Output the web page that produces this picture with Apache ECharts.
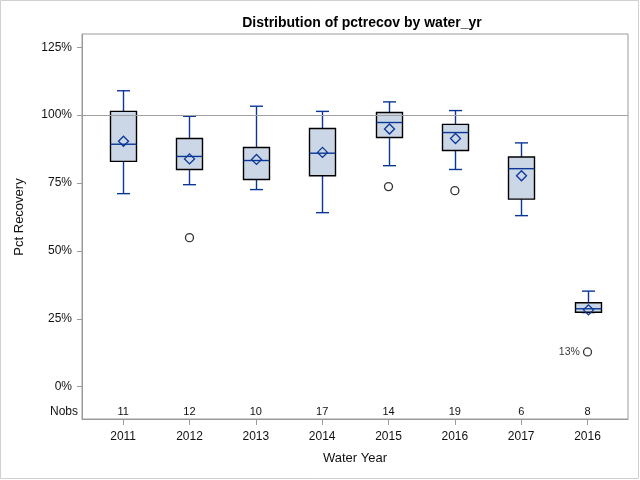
<!DOCTYPE html>
<html>
<head>
<meta charset="utf-8">
<script src="https://cdn.jsdelivr.net/npm/echarts@6/dist/echarts.min.js"></script>
<style>html,body{margin:0;padding:0;background:#fff}#c{width:640px;height:480px}</style>
</head>
<body>
<div id="c"></div>
<script>
var categories = ['2011','2012','2013','2014','2015','2016','2017','2016'];
var whiskerLow = [71.1, 74.4, 72.6, 64.1, 81.4, 80.0, 63.0, 27.3];
var q1 =         [83.0, 80.0, 76.3, 77.7, 91.8, 87.0, 69.1, 27.4];
var median =     [89.3, 84.8, 83.3, 86.0, 97.3, 93.6, 80.3, 28.7];
var q3 =         [101.4, 91.4, 88.1, 95.1, 101.0, 96.6, 84.6, 30.9];
var whiskerHigh =[109.0, 99.6, 103.3, 101.4, 104.9, 101.7, 89.8, 35.2];
var means =      [90.4, 83.9, 83.7, 86.3, 94.9, 91.4, 77.7, 28.3];
var nobs =       [11, 12, 10, 17, 14, 19, 6, 8];
var outliers = [[1, 54.9], [4, 73.7], [5, 72.2], [7, 12.8]];
var outlierLabels = {'7': '13%'};
var yTicks = [0, 25, 50, 75, 100, 125];
var nobsLevel = -9.2;

var idx = categories.map(function (_, i) { return i; });
var boxData = idx.map(function (i) {
  return [i, whiskerLow[i], q1[i], median[i], q3[i], whiskerHigh[i], means[i]];
});

var BLUE = '#0a3797';
var FILL = '#cbd6e6';
var AXIS = '#9a9a9a';

function renderBox(params, api) {
  var x = api.value(0);
  var pLow = api.coord([x, api.value(1)]);
  var pQ1 = api.coord([x, api.value(2)]);
  var pMed = api.coord([x, api.value(3)]);
  var pQ3 = api.coord([x, api.value(4)]);
  var pHigh = api.coord([x, api.value(5)]);
  var pMean = api.coord([x, api.value(6)]);
  var cx = Math.round(pQ1[0]) + 0.5;
  var hw = 13, cw = 6.5, d = 5;
  var lineStyle = { stroke: BLUE, lineWidth: 1.4 };
  return {
    type: 'group',
    children: [
      { type: 'line', shape: { x1: cx, y1: pHigh[1], x2: cx, y2: pQ3[1] }, style: lineStyle },
      { type: 'line', shape: { x1: cx, y1: pQ1[1], x2: cx, y2: pLow[1] }, style: lineStyle },
      { type: 'line', shape: { x1: cx - cw, y1: pHigh[1], x2: cx + cw, y2: pHigh[1] }, style: lineStyle },
      { type: 'line', shape: { x1: cx - cw, y1: pLow[1], x2: cx + cw, y2: pLow[1] }, style: lineStyle },
      { type: 'rect', shape: { x: cx - hw, y: pQ3[1], width: 2 * hw, height: pQ1[1] - pQ3[1] },
        style: { fill: FILL, stroke: '#000', lineWidth: 1.4 } },
      { type: 'line', shape: { x1: cx - hw, y1: pMed[1], x2: cx + hw, y2: pMed[1] }, style: lineStyle },
      { type: 'polygon', shape: { points: [[cx, pMean[1] - d], [cx + d, pMean[1]], [cx, pMean[1] + d], [cx - d, pMean[1]]] },
        style: { fill: 'none', stroke: BLUE, lineWidth: 1.3 } }
    ]
  };
}

function renderNobs(params, api) {
  var p = api.coord([api.value(0), nobsLevel]);
  return {
    type: 'text',
    style: { x: p[0], y: p[1], text: String(api.value(1)), align: 'center', verticalAlign: 'middle',
      fill: '#111', font: '11px "Liberation Sans", Arial, sans-serif' }
  };
}

var chart = echarts.init(document.getElementById('c'), null, { renderer: 'canvas' });
var FONT = '"Liberation Sans", Arial, sans-serif';
chart.setOption({
  animation: false,
  backgroundColor: '#fff',
  textStyle: { fontFamily: FONT },
  grid: { left: 82, right: 12, top: 34, bottom: 61, show: true, borderColor: AXIS, borderWidth: 1, backgroundColor: 'transparent' },
  xAxis: {
    type: 'value', min: -0.62, max: 7.61,
    splitLine: { show: false },
    axisLine: { show: true, onZero: false, lineStyle: { color: AXIS } },
    axisTick: { show: true, length: 6, customValues: idx, lineStyle: { color: AXIS } },
    axisLabel: { customValues: idx, formatter: function (v) { return categories[Math.round(v)]; },
      color: '#111', fontSize: 12, margin: 12, fontFamily: FONT },
    name: 'Water Year', nameLocation: 'middle', nameGap: 33,
    nameTextStyle: { color: '#111', fontSize: 13, fontFamily: FONT }
  },
  yAxis: {
    type: 'value', min: -11.9, max: 129.9,
    splitLine: { show: false },
    axisLine: { show: true, onZero: false, lineStyle: { color: AXIS } },
    axisTick: { show: true, length: 5, customValues: yTicks, lineStyle: { color: AXIS } },
    axisLabel: { customValues: yTicks, formatter: function (v) { return v + '%'; },
      color: '#111', fontSize: 12, margin: 10, fontFamily: FONT }
  },
  title: {
    text: 'Distribution of pctrecov by water_yr', left: 357, top: 11, textAlign: 'center',
    textStyle: { fontSize: 14, fontWeight: 'bold', color: '#000', fontFamily: FONT }
  },
  graphic: [
    { type: 'rect', shape: { x: 0.5, y: 0.5, width: 638, height: 478 }, style: { fill: 'none', stroke: '#d0d0d0', lineWidth: 1 }, silent: true, z: -1 },
    { type: 'text', x: 19, y: 217, rotation: Math.PI / 2, style: { text: 'Pct Recovery', align: 'center', verticalAlign: 'middle', fill: '#111', font: '13px ' + FONT } },
    { type: 'text', x: 78, y: 412, style: { text: 'Nobs', align: 'right', verticalAlign: 'middle', fill: '#111', font: '12px ' + FONT } }
  ],
  series: [
    {
      type: 'scatter', data: [], z: 1,
      markLine: { silent: true, symbol: 'none', label: { show: false }, animation: false,
        lineStyle: { color: '#a0a0a0', width: 1, type: 'solid' }, data: [{ yAxis: 100 }] }
    },
    { type: 'custom', renderItem: renderBox, data: boxData, z: 3, encode: { x: 0, y: [1, 5] } },
    {
      type: 'scatter', z: 4, symbol: 'circle', symbolSize: 8,
      itemStyle: { color: '#fff', borderColor: '#000', borderWidth: 1.3 },
      data: outliers.map(function (o, k) {
        var lab = outlierLabels[String(o[0])];
        return lab ? { value: o, label: { show: true, formatter: lab, position: 'left', distance: 3, color: '#000', fontSize: 10.5, fontFamily: FONT } } : { value: o };
      })
    },
    { type: 'custom', renderItem: renderNobs, data: idx.map(function (i) { return [i, nobs[i]]; }), z: 4, encode: { x: 0 } }
  ]
});
</script>
</body>
</html>
